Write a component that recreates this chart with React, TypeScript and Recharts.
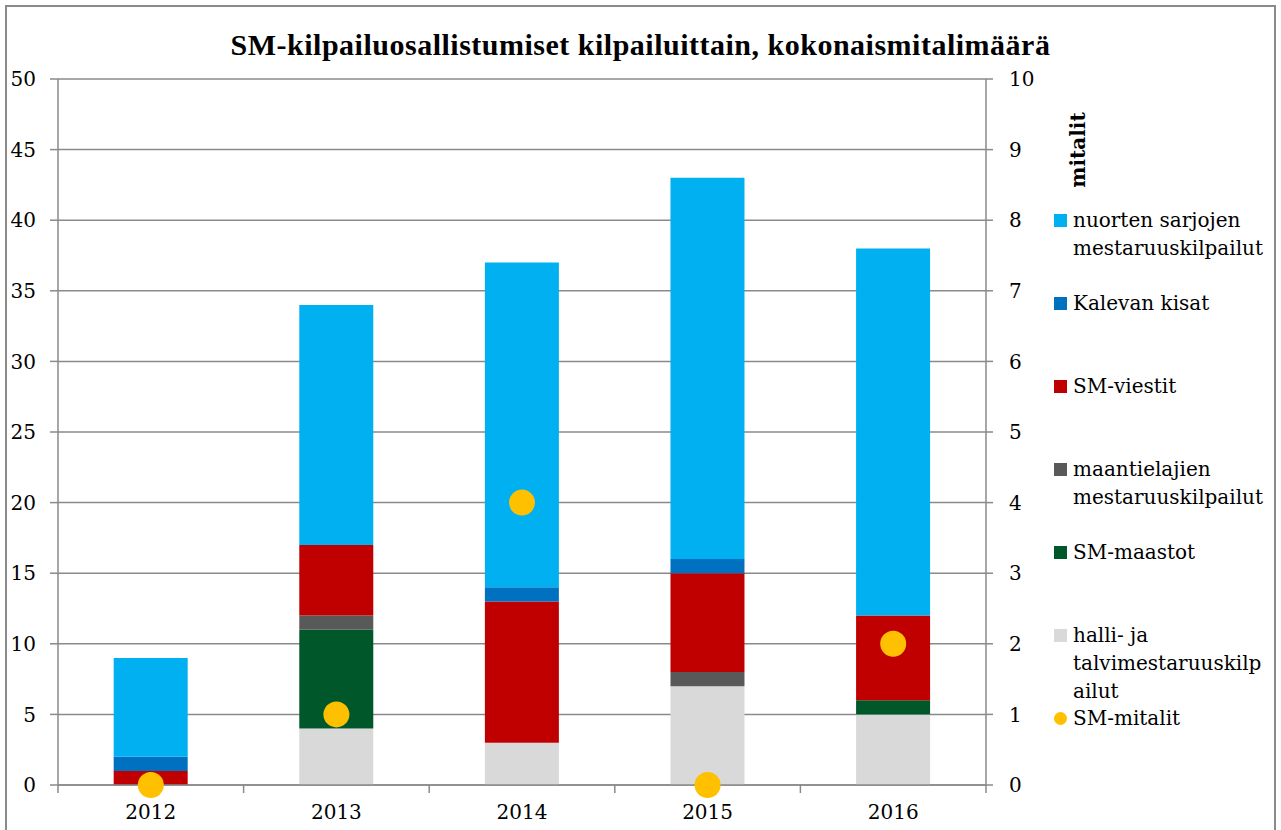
import {
  Bar,
  ComposedChart,
  CartesianGrid,
  Legend,
  Line,
  XAxis,
  YAxis,
} from "recharts";

const YEARS = ["2012", "2013", "2014", "2015", "2016"];
const HALLI = [0, 4, 3, 7, 5];
const MAASTOT = [0, 7, 0, 0, 1];
const MAANTIE = [0, 1, 0, 1, 0];
const VIESTIT = [1, 5, 10, 7, 6];
const KALEVAN = [1, 0, 1, 1, 0];
const NUORTEN = [7, 17, 23, 27, 26];
const MITALIT = [0, 1, 4, 0, 2];

const LEFT_TICKS = [0, 5, 10, 15, 20, 25, 30, 35, 40, 45, 50];
const RIGHT_TICKS = [0, 1, 2, 3, 4, 5, 6, 7, 8, 9, 10];

const TITLE = "SM-kilpailuosallistumiset kilpailuittain, kokonaismitalimäärä";
const RIGHT_LABEL = "mitalit";

// stack order, bottom first
const SERIES = [
  { key: "halli", name: "halli- ja talvimestaruuskilpailut", lines: ["halli- ja", "talvimestaruuskilp", "ailut"], color: "#D9D9D9" },
  { key: "maastot", name: "SM-maastot", lines: ["SM-maastot"], color: "#00582A" },
  { key: "maantie", name: "maantielajien mestaruuskilpailut", lines: ["maantielajien", "mestaruuskilpailut"], color: "#595959" },
  { key: "viestit", name: "SM-viestit", lines: ["SM-viestit"], color: "#C00000" },
  { key: "kalevan", name: "Kalevan kisat", lines: ["Kalevan kisat"], color: "#0070C0" },
  { key: "nuorten", name: "nuorten sarjojen mestaruuskilpailut", lines: ["nuorten sarjojen", "mestaruuskilpailut"], color: "#00B0F0" },
];
const MEDAL = { key: "mitalit", name: "SM-mitalit", color: "#FFC000" };

const data = YEARS.map((year, i) => ({
  year,
  halli: HALLI[i],
  maastot: MAASTOT[i],
  maantie: MAANTIE[i],
  viestit: VIESTIT[i],
  kalevan: KALEVAN[i],
  nuorten: NUORTEN[i],
  mitalit: MITALIT[i],
}));

const FONT = "'DejaVu Serif', serif";
const GRID = "#8a8a8a";

function XTick(props: any) {
  const { x, y, payload, index, visibleTicksCount } = props;
  const off = payload?.offset ?? 0;
  const last = index === visibleTicksCount - 1;
  return (
    <g>
      <line x1={x - off} x2={x - off} y1={y} y2={y + 8} stroke={GRID} strokeWidth={1.5} />
      {last && <line x1={x + off} x2={x + off} y1={y} y2={y + 8} stroke={GRID} strokeWidth={1.5} />}
      <text x={x} y={y + 34} textAnchor="middle" fill="#000" fontSize={20} fontFamily={FONT}>
        {payload.value}
      </text>
    </g>
  );
}

function LegendBox() {
  const items = [...SERIES].reverse();
  return (
    <div style={{ fontFamily: FONT, fontSize: 20, color: "#000", width: 215 }}>
      {items.map((s) => (
        <div key={s.key} style={{ height: 83, position: "relative" }}>
          <span
            style={{ position: "absolute", left: 0, top: 8, width: 13, height: 13, background: s.color }}
          />
          <div style={{ marginLeft: 19, lineHeight: "28px", whiteSpace: "nowrap" }}>
            {s.lines.map((l) => (
              <div key={l}>{l}</div>
            ))}
          </div>
        </div>
      ))}
      <div style={{ position: "relative", height: 28 }}>
        <span
          style={{ position: "absolute", left: 0, top: 8, width: 13, height: 13, borderRadius: "50%", background: MEDAL.color }}
        />
        <div style={{ marginLeft: 19, lineHeight: "28px" }}>{MEDAL.name}</div>
      </div>
    </div>
  );
}

export default function App() {
  return (
    <div style={{ position: "absolute", left: 0, top: 0, width: 1281, height: 830, overflow: "hidden", background: "#fff" }}>
      <div
        style={{
          position: "absolute", left: 5, top: 5, width: 1271, height: 860,
          border: `2px solid ${GRID}`, boxSizing: "border-box",
        }}
      />
      <div
        style={{
          position: "absolute", left: 0, width: 1281, top: 26, textAlign: "center",
          fontFamily: "'Liberation Serif', serif", fontWeight: "bold", fontSize: 30,
          letterSpacing: 0.5, lineHeight: "38px",
        }}
      >
        {TITLE}
      </div>
      <div
        style={{
          position: "absolute", left: 1078, top: 150, transform: "translate(-50%, -50%) rotate(-90deg)",
          fontFamily: FONT, fontWeight: "bold", fontSize: 20, whiteSpace: "nowrap",
        }}
      >
        {RIGHT_LABEL}
      </div>
      <ComposedChart
        width={1281}
        height={830}
        data={data}
        margin={{ top: 79, right: 215, bottom: 0, left: 0 }}
        barCategoryGap="30%"
      >
        <CartesianGrid vertical={false} stroke={GRID} strokeWidth={1.5} yAxisId="left" />
        <XAxis
          dataKey="year"
          height={45}
          interval={0}
          tickLine={false}
          tickSize={0}
          tickMargin={0}
          axisLine={{ stroke: GRID, strokeWidth: 1.5 }}
          tick={<XTick />}
        />
        <YAxis
          yAxisId="left"
          width={58}
          domain={[0, 50]}
          ticks={LEFT_TICKS}
          interval={0}
          tickSize={8}
          tickMargin={14}
          tickLine={{ stroke: GRID, strokeWidth: 1.5 }}
          axisLine={{ stroke: GRID, strokeWidth: 1.5 }}
          tick={{ fill: "#000", fontSize: 20, fontFamily: FONT }}
        />
        <YAxis
          yAxisId="right"
          orientation="right"
          width={80}
          domain={[0, 10]}
          ticks={RIGHT_TICKS}
          interval={0}
          tickSize={7}
          tickMargin={16}
          tickLine={{ stroke: GRID, strokeWidth: 1.5 }}
          axisLine={{ stroke: GRID, strokeWidth: 1.5 }}
          tick={{ fill: "#000", fontSize: 20, fontFamily: FONT, textAnchor: "start" }}
        />
        {SERIES.map((s) => (
          <Bar
            key={s.key}
            yAxisId="left"
            dataKey={s.key}
            name={s.name}
            stackId="a"
            fill={s.color}
            isAnimationActive={false}
          />
        ))}
        <Line
          yAxisId="right"
          dataKey={MEDAL.key}
          name={MEDAL.name}
          stroke="none"
          dot={{ r: 13, fill: MEDAL.color, stroke: "none" }}
          activeDot={false}
          isAnimationActive={false}
        />
        <Legend
          layout="vertical"
          align="center"
          verticalAlign="middle"
          wrapperStyle={{ left: 1054, top: 206, width: 215 }}
          content={() => <LegendBox />}
        />
      </ComposedChart>
    </div>
  );
}
